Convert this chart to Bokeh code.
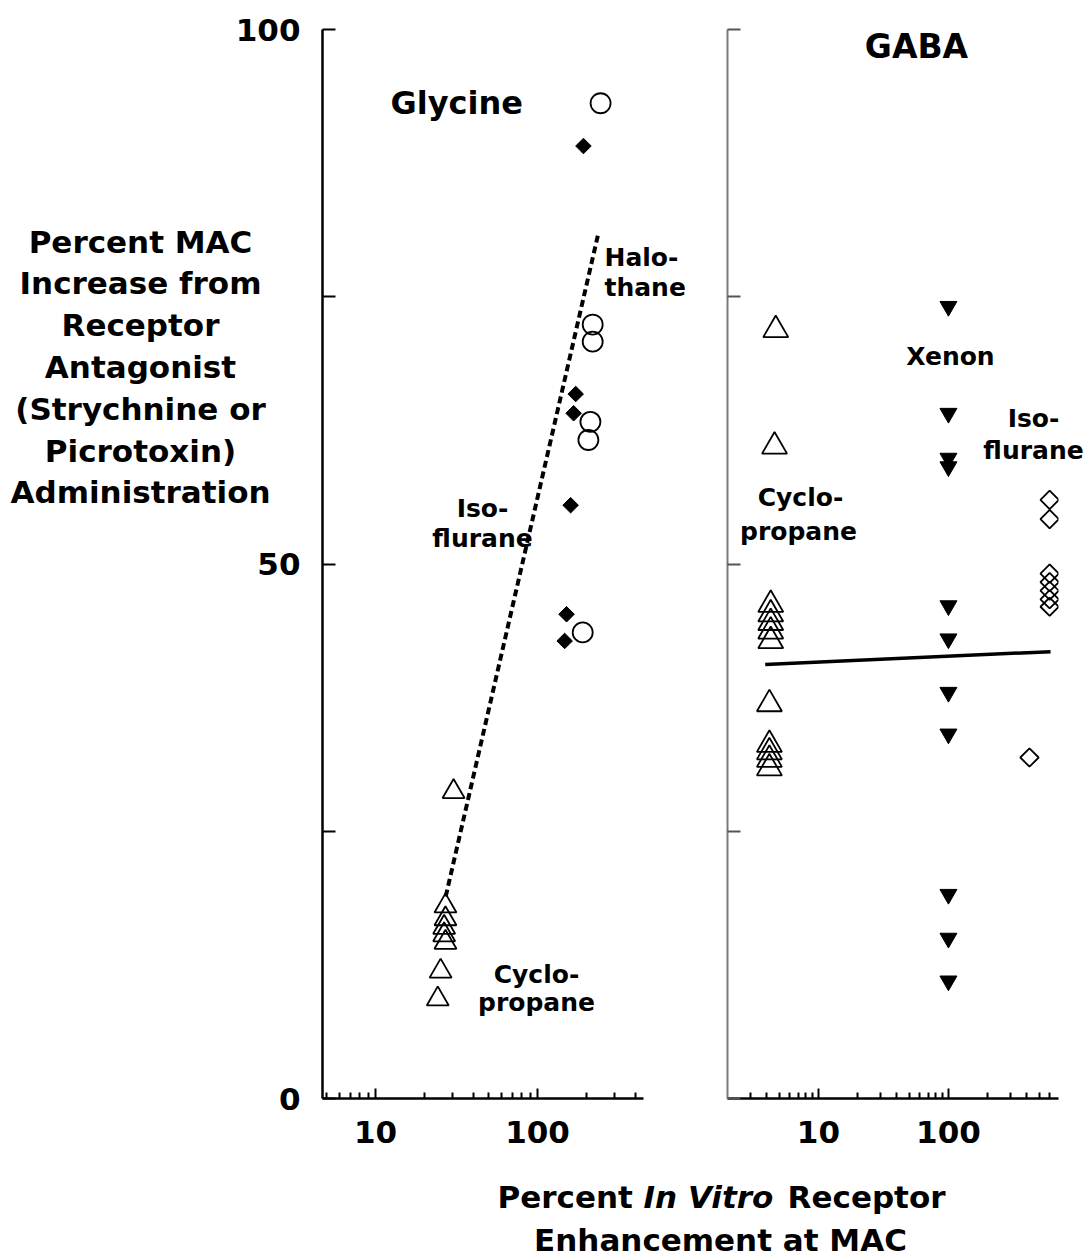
import numpy as np
from bokeh.plotting import figure
from bokeh.layouts import row
from bokeh.models import Range1d, FixedTicker, Label, PrintfTickFormatter, GridBox
from bokeh.embed import file_html
from bokeh.resources import INLINE

# ---------------- data ----------------
# Glycine panel (x: percent in vitro enhancement, log; y: percent MAC increase)
gly_cyclo_x = [30.3, 27.0, 27.0, 26.5, 26.5, 27.0, 25.2, 24.2]
gly_cyclo_y = [28.7, 18.0, 16.8, 16.0, 15.3, 14.6, 11.9, 9.3]
gly_halo_x = [245, 219, 219, 212, 206, 190]
gly_halo_y = [93.1, 72.4, 70.8, 63.3, 61.6, 43.6]
gly_iso_x = [192, 172, 167, 160, 151, 147]
gly_iso_y = [89.1, 65.9, 64.1, 55.5, 45.3, 42.8]
gly_fit_x = [27.1, 238]
gly_fit_y = [18.9, 81.0]

# GABA panel
gaba_cyclo_x = [4.7, 4.6, 4.3, 4.3, 4.3, 4.3, 4.3, 4.2, 4.2, 4.2, 4.2, 4.2]
gaba_cyclo_y = [71.9, 61.0, 46.2, 45.3, 44.5, 43.7, 42.8, 36.9, 33.1, 32.4, 31.7, 30.9]
gaba_xenon_x = [100, 100, 100, 100, 100, 100, 100, 100, 100, 100, 100]
gaba_xenon_y = [74.1, 64.1, 59.9, 59.1, 46.1, 43.0, 38.0, 34.1, 19.1, 15.0, 11.0]
gaba_iso_x = [600, 600, 600, 600, 600, 600, 600, 420]
gaba_iso_y = [56.0, 54.2, 49.1, 48.3, 47.5, 46.7, 46.0, 31.9]
gaba_fit_x = [3.9, 610]
gaba_fit_y = [40.6, 41.8]

# ticks
y_major = [0, 50, 100]
y_minor = [25, 75]
y_all = [0, 25, 50, 75, 100]
gly_x_major = [10, 100]
gly_x_minor = [5, 6, 7, 8, 9, 20, 30, 40, 50, 60, 70, 80, 90, 200, 300, 400]
gaba_x_major = [10, 100]
gaba_x_minor = [3, 4, 5, 6, 7, 8, 9, 20, 30, 40, 50, 60, 70, 80, 90, 200, 300, 400, 500, 600]

FONT = "DejaVu Sans"
W, H = 1087, 1258


def base_fig(width, xr, bl, br, bt, bb):
    p = figure(width=width, height=H, x_axis_type="log", x_range=Range1d(*xr),
               y_range=Range1d(0, 100), output_backend="svg", toolbar_location=None,
               min_border_left=bl, min_border_right=br, min_border_top=bt, min_border_bottom=bb)
    p.outline_line_color = None
    p.grid.visible = False
    p.background_fill_color = "white"
    p.border_fill_color = "white"
    xa = p.xaxis[0]
    xa.major_tick_in = 10
    xa.major_tick_out = 0
    xa.minor_tick_in = 6
    xa.minor_tick_out = 0
    xa.axis_line_width = 2.5
    xa.major_tick_line_width = 2
    xa.minor_tick_line_width = 2
    xa.axis_line_color = "black"
    xa.major_tick_line_color = "black"
    xa.minor_tick_line_color = "black"
    xa.formatter = PrintfTickFormatter(format="%d")
    xa.major_label_text_font = FONT
    xa.major_label_text_font_style = "bold"
    xa.major_label_text_font_size = "31px"
    xa.major_label_text_color = "black"
    xa.major_label_standoff = 22
    ya = p.yaxis[0]
    ya.major_tick_in = 13
    ya.major_tick_out = 0
    ya.minor_tick_in = 13
    ya.minor_tick_out = 0
    ya.major_tick_line_width = 2
    ya.minor_tick_line_width = 2
    ya.major_label_text_font = FONT
    ya.major_label_text_font_style = "bold"
    ya.major_label_text_font_size = "31px"
    ya.major_label_text_color = "black"
    ya.major_label_standoff = 22
    return p


# ---------------- Glycine panel ----------------
# canvas x 0..700, frame x 322..643, frame y 29..1100
p1 = base_fig(700, (4.7, 451), 322, 57, 29, H - 1100)
p1.xaxis[0].ticker = FixedTicker(ticks=gly_x_major, minor_ticks=gly_x_minor)
p1.yaxis[0].ticker = FixedTicker(ticks=y_major, minor_ticks=y_minor)
p1.yaxis[0].axis_line_width = 2.5
p1.yaxis[0].axis_line_color = "black"
p1.yaxis[0].major_tick_line_color = "black"
p1.yaxis[0].minor_tick_line_color = "black"

p1.line(gly_fit_x, gly_fit_y, line_color="black", line_width=4, line_dash="7 4")
p1.scatter(gly_cyclo_x, gly_cyclo_y, marker="triangle", size=22, fill_color=None,
           line_color="black", line_width=1.8)
p1.scatter(gly_halo_x, gly_halo_y, marker="circle", size=20, fill_color=None,
           line_color="black", line_width=1.8)
p1.scatter(gly_iso_x, gly_iso_y, marker="square", angle=np.pi / 4, size=11,
           fill_color="black", line_color="black", line_width=1)

# ---------------- GABA panel ----------------
# canvas x 700..1087, frame x 727..1058, frame y 24..1098
p2 = base_fig(W - 700, (2.0, 702), 27, W - 1058, 24, H - 1098)
p2.xaxis[0].ticker = FixedTicker(ticks=gaba_x_major, minor_ticks=gaba_x_minor)
p2.yaxis[0].ticker = FixedTicker(ticks=[], minor_ticks=y_all)
p2.yaxis[0].axis_line_width = 2
p2.yaxis[0].axis_line_color = "#7a7a7a"
p2.yaxis[0].major_tick_line_color = "#555555"
p2.yaxis[0].minor_tick_line_color = "#555555"

p2.line(gaba_fit_x, gaba_fit_y, line_color="black", line_width=3.5)
p2.scatter(gaba_cyclo_x, gaba_cyclo_y, marker="triangle", size=25, fill_color=None,
           line_color="black", line_width=1.8)
p2.scatter(gaba_xenon_x, gaba_xenon_y, marker="inverted_triangle", size=17,
           fill_color="black", line_color="black", line_width=1)
p2.scatter(gaba_iso_x, gaba_iso_y, marker="square", angle=np.pi / 4, size=13,
           fill_color=None, line_color="black", line_width=1.8)

# ---------------- transparent text overlay (whole page) ----------------
ov = figure(width=W, height=H, x_range=Range1d(0, 1), y_range=Range1d(0, 1),
            x_axis_location=None, y_axis_location=None, output_backend="svg",
            toolbar_location=None, min_border=0)
ov.outline_line_color = None
ov.grid.visible = False
ov.background_fill_alpha = 0
ov.border_fill_alpha = 0


def lab(text, px, py, size, align="left", style="bold"):
    # px, py: intended page position of the text's baseline (corrected for rendering offset)
    s = float(size.replace("px", ""))
    ov.add_layout(Label(x=px, y=H - (py - 0.36 * s), x_units="screen", y_units="screen",
                        text=text, text_font=FONT, text_font_style=style,
                        text_font_size=size, text_align=align,
                        text_baseline="alphabetic", text_color="black"))


title_lines = ["Percent MAC", "Increase from", "Receptor", "Antagonist",
               "(Strychnine or", "Picrotoxin)", "Administration"]
for i, t in enumerate(title_lines):
    lab(t, 140, 241 + 41.8 * i + 11.3, "31px", align="center")

lab("Glycine", 390, 114, "32px")
lab("Halo-", 604, 266, "25px")
lab("thane", 604, 296, "25px")
lab("Iso-", 482, 517, "25px", align="center")
lab("flurane", 482, 547, "25px", align="center")
lab("Cyclo-", 536, 983, "25px", align="center")
lab("propane", 536, 1011, "25px", align="center")

lab("GABA", 916, 58, "33px", align="center")
lab("Xenon", 950, 365, "25px", align="center")
lab("Iso-", 1033, 427, "25px", align="center")
lab("flurane", 1033, 459, "25px", align="center")
lab("Cyclo-", 800, 506, "25px", align="center")
lab("propane", 798, 540, "25px", align="center")

lab("Percent", 497, 1208, "31px")
lab("In Vitro", 643, 1208, "31px", style="bold italic")
lab("Receptor", 945, 1208, "31px", align="right")
lab("Enhancement at MAC", 720, 1251, "31px", align="center")

layout = GridBox(children=[(row(p1, p2), 0, 0), (ov, 0, 0)])
open("out.html", "w").write(file_html(layout, INLINE))
